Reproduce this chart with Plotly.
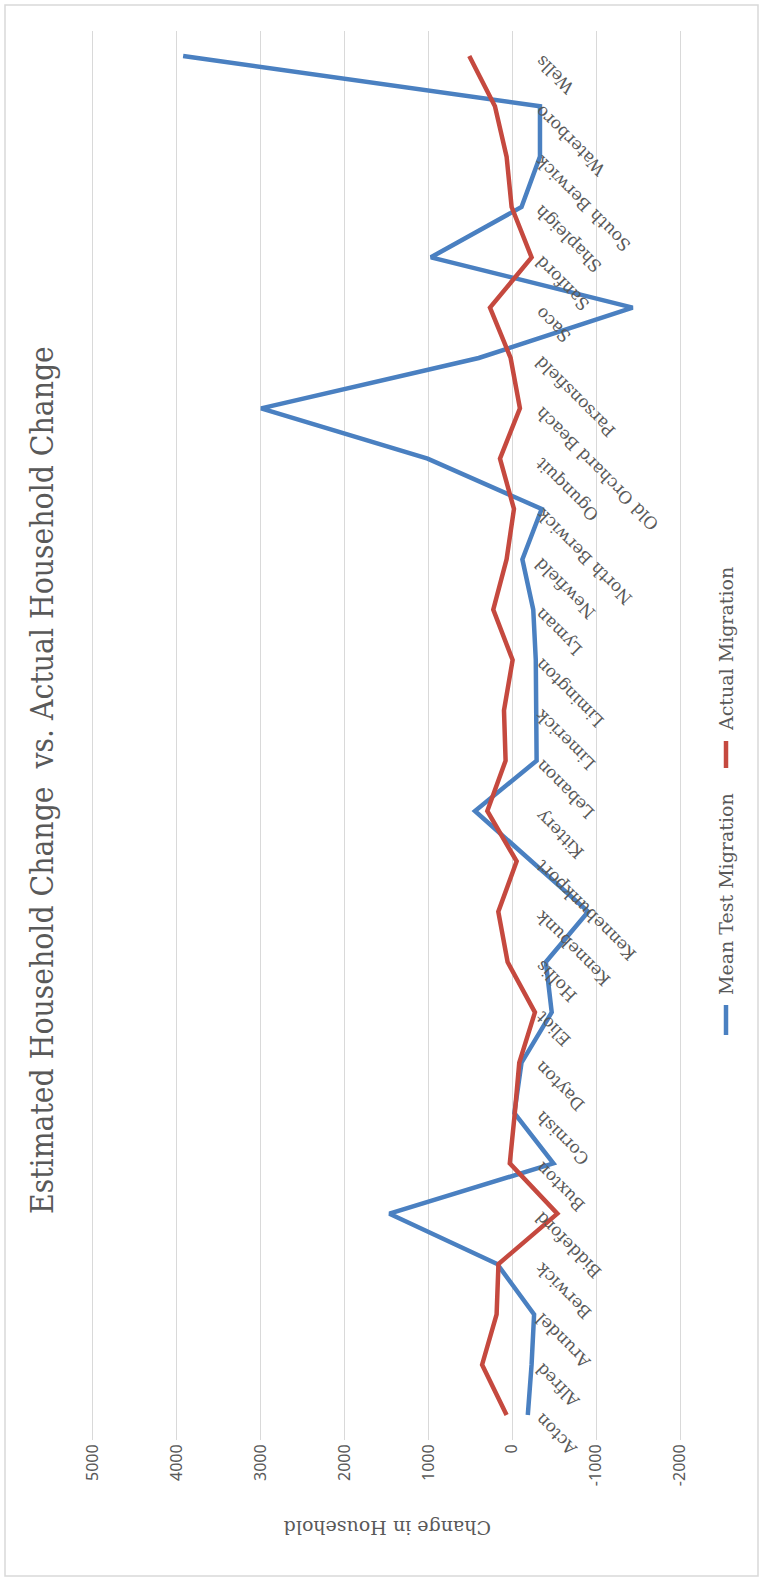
import plotly.graph_objects as go

# Towns (category axis, bottom to top)
towns = ["Acton", "Alfred", "Arundel", "Berwick", "Biddeford", "Buxton", "Cornish",
         "Dayton", "Eliot", "Hollis", "Kennebunk", "Kennebunkport", "Kittery",
         "Lebanon", "Limerick", "Limington", "Lyman", "Newfield", "North Berwick",
         "Ogunquit", "Old Orchard Beach", "Parsonsfield", "Saco", "Sanford",
         "Shapleigh", "South Berwick", "Waterboro", "Wells"]

mean_test_migration = [-185, -230, -260, 180, 1465, -490, -25, -110, -470, -400,
                       -905, -230, 445, -290, -290, -280, -250, -120, -350, 1010,
                       2995, 400, -1435, 970, -110, -330, -330, 3925]

actual_migration = [68, 360, 187, 165, -537, 30, -30, -83, -270, 56,
                    167, -52, 298, 80, 99, -4, 227, 68, -20, 147,
                    -91, 20, 266, -230, 8, 68, 207, 513]

value_ticks = [-2000, -1000, 0, 1000, 2000, 3000, 4000, 5000]

title_text = "Estimated Household Change  vs. Actual Household Change"
axis_title = "Change in Household"
series_names = ["Mean Test Migration", "Actual Migration"]

W, H = 763, 1581
BLUE = "#4a80c1"
RED = "#c5493f"
GREY_TXT = "#595959"
SERIF = "DejaVu Serif Condensed, DejaVu Serif, Liberation Serif, serif"


def px(x):
    return x / W


def py(y):
    return 1 - y / H


fig = go.Figure()
fig.add_trace(go.Scatter(x=mean_test_migration, y=towns, mode="lines",
                         name=series_names[0], line=dict(color=BLUE, width=4.5),
                         showlegend=False, hoverinfo="x+y"))
fig.add_trace(go.Scatter(x=actual_migration, y=towns, mode="lines",
                         name=series_names[1], line=dict(color=RED, width=4.5),
                         showlegend=False, hoverinfo="x+y"))

annotations = []
# Rotated category labels hanging off the zero line
for t in towns:
    annotations.append(dict(x=0, y=t, xref="x", yref="y", text=t, showarrow=False,
                            textangle=-135, xanchor="left", yanchor="top",
                            xshift=16, yshift=8,
                            font=dict(family="DejaVu Serif, serif", size=17,
                                      color=GREY_TXT)))

# Chart title, reading upward along the left edge
annotations.append(dict(x=px(42), y=py(780), xref="paper", yref="paper",
                        text=title_text, showarrow=False, textangle=-90,
                        xanchor="center", yanchor="middle",
                        font=dict(family=SERIF, size=31.5, color=GREY_TXT)))

# Value axis title, upside down under the tick labels
annotations.append(dict(x=px(388), y=py(1528), xref="paper", yref="paper",
                        text=axis_title, showarrow=False, textangle=180,
                        xanchor="center", yanchor="middle",
                        font=dict(family="DejaVu Serif, serif", size=19,
                                  color=GREY_TXT)))

# Legend drawn sideways on the right
legend_items = [(series_names[0], BLUE, 1035, 1005),
                (series_names[1], RED, 768, 741)]
shapes = []
for name, col, y_lo, y_hi in legend_items:
    shapes.append(dict(type="line", xref="paper", yref="paper",
                       x0=px(726), x1=px(726), y0=py(y_lo), y1=py(y_hi),
                       line=dict(color=col, width=4.5)))
    annotations.append(dict(x=px(726), y=py(y_hi - 8), xref="paper", yref="paper",
                            text=name, showarrow=False, textangle=-90,
                            xanchor="center", yanchor="bottom",
                            font=dict(family="DejaVu Serif, serif", size=19,
                                      color=GREY_TXT)))

# Chart border
shapes.append(dict(type="rect", xref="paper", yref="paper",
                   x0=px(5), x1=px(758), y0=py(1576), y1=py(5),
                   line=dict(color="#d9d9d9", width=1.5), layer="below"))

fig.update_layout(
    width=W, height=H,
    margin=dict(l=0, r=0, t=0, b=0, autoexpand=False),
    paper_bgcolor="white", plot_bgcolor="white",
    showlegend=False,
    annotations=annotations,
    shapes=shapes,
    # range padded slightly so the outermost gridlines are kept
    xaxis=dict(domain=[px(91.3), px(681.7)], range=[5020, -2020],
               tickvals=value_ticks, ticktext=[str(v) for v in value_ticks],
               tickangle=-90, showgrid=True, gridcolor="#d9d9d9", gridwidth=1,
               zeroline=False, showline=False, ticks="", ticklen=0,
               ticklabelstandoff=0, automargin=False,
               tickfont=dict(family="Noto Sans, Open Sans, sans-serif", size=16,
                             color=GREY_TXT)),
    yaxis=dict(domain=[py(1440.2), py(30.8)], type="category",
               categoryorder="array", categoryarray=towns,
               range=[-0.5, len(towns) - 0.5], automargin=False,
               showticklabels=False, showgrid=False, zeroline=False,
               showline=False, ticks=""),
)

fig.write_html("out.html")
